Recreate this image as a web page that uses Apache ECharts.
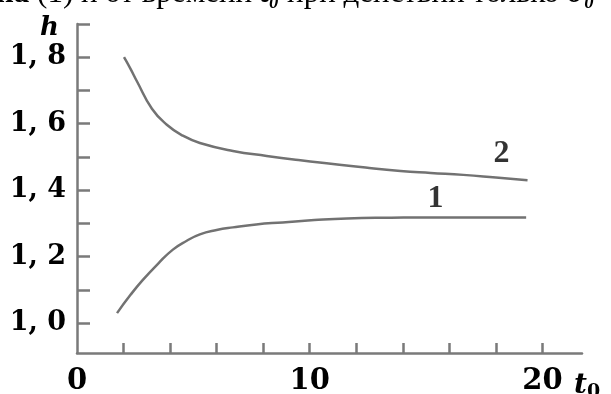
<!DOCTYPE html>
<html>
<head>
<meta charset="utf-8">
<script src="https://cdn.jsdelivr.net/npm/echarts@6/dist/echarts.min.js"></script>
<style>html,body{margin:0;padding:0;background:#fff}#c{width:611px;height:394px}</style>
</head>
<body>
<div id="c"></div>
<script>
// Data
var curve1 = [[1.72,1.030],[2.3,1.085],[2.83,1.130],[3.5,1.180],[4.12,1.221],[4.7,1.247],[5.28,1.267],[6.0,1.280],[6.7,1.288],[7.7,1.297],[8.84,1.303],[10.2,1.310],[11.6,1.315],[13.5,1.317],[15.5,1.318],[17.5,1.318],[19.3,1.318]];
var curve2 = [[2.02,1.800],[2.3,1.765],[2.58,1.727],[3.22,1.645],[3.86,1.597],[4.55,1.564],[5.28,1.542],[6.7,1.518],[8.15,1.503],[9.6,1.490],[11.0,1.479],[12.4,1.468],[13.9,1.458],[15.2,1.452],[16.6,1.446],[18.0,1.438],[19.36,1.430]];
var curveLabels = [[15.4,1.373,'1'],[18.24,1.51,'2']];
var xTickValues = [2,4,6,8,10,12,14,16,18,20];
var xLabelValues = [0,10,20];
var yTickValues = [1.0,1.1,1.2,1.3,1.4,1.5,1.6,1.7,1.8,1.9];
var yLabelValues = [1.0,1.2,1.4,1.6,1.8];
var titleParts = ['на', ' (1) и от времени ', 't₀', ' при действии только ', 'σ₀'];

var chart = echarts.init(document.getElementById('c'), null, {renderer:'canvas'});
var axisCol = '#7a7a7a';
var lineCol = '#727272';
var tf = 'Liberation Serif';
chart.setOption({
  animation:false,
  backgroundColor:'#fff',
  grid:{left:77, top:24, right:611-582, bottom:394-353, containLabel:false, outerBoundsMode:'none'},
  xAxis:{
    type:'value', min:0, max:21.7,
    name:'{t|t}{s|0}', nameLocation:'end', nameGap:-8,
    nameTextStyle:{verticalAlign:'top', align:'left', padding:[16,0,0,0],
      rich:{t:{fontFamily:'DejaVu Serif', fontStyle:'italic', fontWeight:'bold', fontSize:28, color:'#000'},
            s:{fontFamily:'DejaVu Serif', fontWeight:'bold', fontSize:19, color:'#000', padding:[14,0,0,0]}}},
    splitLine:{show:false},
    axisLine:{lineStyle:{color:axisCol, width:2.5}},
    axisTick:{inside:true, length:10, customValues:xTickValues, lineStyle:{color:axisCol, width:2.5}},
    axisLabel:{customValues:xLabelValues, margin:14, fontFamily:'DejaVu Serif', fontWeight:'bold', fontSize:29, color:'#000'}
  },
  yAxis:{
    type:'value', min:0.91, max:1.9,
    name:'h', nameLocation:'end', nameGap:-4,
    nameTextStyle:{fontFamily:'DejaVu Serif', fontStyle:'italic', fontWeight:'bold', fontSize:26, color:'#000', align:'right', verticalAlign:'middle', padding:[0,18,0,0]},
    splitLine:{show:false},
    axisLine:{lineStyle:{color:axisCol, width:2.5}},
    axisTick:{inside:true, length:13, customValues:yTickValues, lineStyle:{color:axisCol, width:2.5}},
    axisLabel:{customValues:yLabelValues, margin:11, fontFamily:'DejaVu Serif', fontWeight:'bold', fontSize:27, color:'#000',
      formatter:function(v){ return v.toFixed(1).replace('.', ', '); }}
  },
  graphic:[{
    type:'text', left:-4, top:-22,
    style:{
      text:'{b|'+titleParts[0]+'}{r|'+titleParts[1]+'}{bi|'+titleParts[2]+'}{r|'+titleParts[3]+'}{bi|'+titleParts[4]+'}',
      rich:{
        b:{fontFamily:tf, fontWeight:'bold', fontSize:31, fill:'#000', color:'#000'},
        r:{fontFamily:tf, fontSize:31, fill:'#000', color:'#000'},
        bi:{fontFamily:tf, fontWeight:'bold', fontStyle:'italic', fontSize:31, fill:'#000', color:'#000'}
      }
    }
  }],
  series:[
    {type:'line', data:curve1, smooth:true, showSymbol:false, lineStyle:{color:lineCol, width:2.5}},
    {type:'line', data:curve2, smooth:true, showSymbol:false, lineStyle:{color:lineCol, width:2.5}},
    {type:'scatter', symbol:'circle', symbolSize:1, itemStyle:{color:'rgba(0,0,0,0)'},
      data:curveLabels.map(function(d){return [d[0], d[1], d[2]];}),
      label:{show:true, position:'inside', formatter:function(p){return p.data[2];}, fontFamily:'Liberation Serif', fontWeight:'bold', fontSize:32, color:'#000'}}
  ]
});
</script>
</body>
</html>
